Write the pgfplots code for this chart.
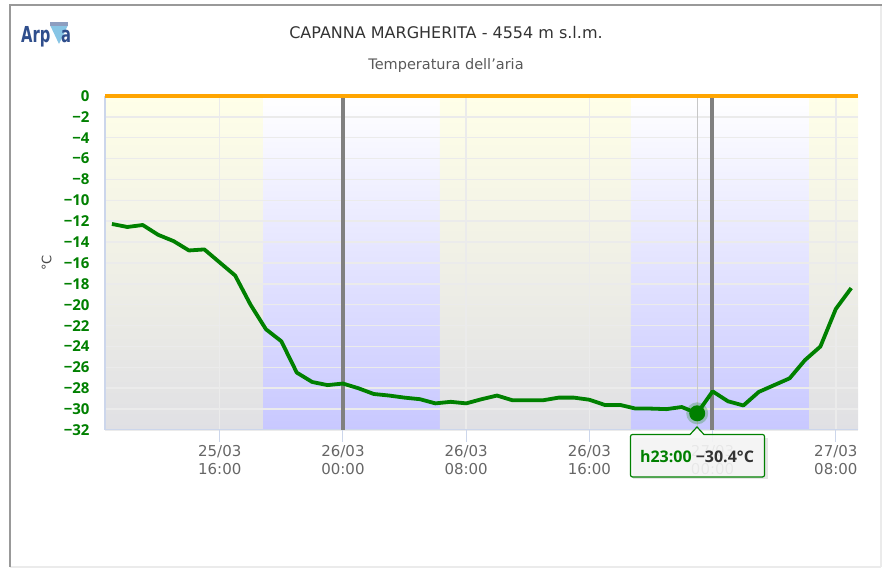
\documentclass[border=0pt]{standalone}
\usepackage{pgfplots}
\usepackage{fontspec}
\setmainfont{DejaVu Sans}
\newfontfamily\ofont{Open Sans}
\pgfplotsset{compat=1.18}
\definecolor{gr}{HTML}{008000}
\definecolor{axl}{HTML}{CCD6EB}
\definecolor{yt}{HTML}{FFFFE8}
\definecolor{yb}{HTML}{E0E0E4}
\definecolor{bt}{HTML}{FFFFFF}
\definecolor{bb}{HTML}{C8C8FF}
\definecolor{logo}{HTML}{2F4E8C}
\definecolor{org}{HTML}{FFA500}
\definecolor{lcy}{HTML}{87C5E5}
\begin{document}
\begin{tikzpicture}
\draw[line width=2pt,color=black!8] (881pt,3pt) -- (10pt,3pt);
\draw[line width=2pt,color=black!8] (881pt,565pt) -- (881pt,3pt);
\draw[line width=2pt,color=black!40] (10pt,3pt) -- (10pt,565pt) -- (882pt,565pt);
\begin{axis}[
  at={(105pt,140pt)},anchor=south west,scale only axis,width=753pt,height=334pt,
  set layers,
  xmin=-15.45,xmax=33.44,ymin=-32,ymax=0,
  clip=false,
  axis line style={draw=axl,line width=1pt},
  axis x line*=bottom,axis y line*=left,
  x axis line style={-},y axis line style={-,line width=2pt},
  xtick={-8,0,8,16,24,32},
  xticklabel style={align=center,text=black!60,font=\fontsize{15}{18}\selectfont,yshift=0pt},
  xticklabels={{25/03\\16:00},{26/03\\00:00},{26/03\\08:00},{26/03\\16:00},{27/03\\00:00},{27/03\\08:00}},
  ytick={0,-2,-4,-6,-8,-10,-12,-14,-16,-18,-20,-22,-24,-26,-28,-30,-32},
  yticklabels={0,−2,−4,−6,−8,−10,−12,−14,−16,−18,−20,−22,−24,−26,−28,−30,−32},
  yticklabel style={text=gr,font=\fontsize{15}{16}\ofont\bfseries\selectfont,xshift=0pt},
  tick align=outside,
  xtick style={draw=axl,line width=1pt},
  ytick style={draw=none},
  major tick length=12pt,
  ylabel={°C},
  ylabel style={font=\fontsize{13}{16}\selectfont,text=black!72,at={(axis description cs:0,0.5)},anchor=south,yshift=50pt},
  grid=major,
  grid style={color=black!8,line width=1.5pt},
]
\begin{pgfonlayer}{axis background}
\path[top color=yt,bottom color=yb] (axis cs:-15.45,0) rectangle (axis cs:-5.19,-32);
\path[top color=bt,bottom color=bb] (axis cs:-5.19,0) rectangle (axis cs:6.3,-32);
\path[top color=yt,bottom color=yb] (axis cs:6.3,0) rectangle (axis cs:18.7,-32);
\path[top color=bt,bottom color=bb] (axis cs:18.7,0) rectangle (axis cs:30.3,-32);
\path[top color=yt,bottom color=yb] (axis cs:30.3,0) rectangle (axis cs:33.44,-32);
\end{pgfonlayer}
\addplot[forget plot,color=black!50,line width=4pt] coordinates {(0,0)(0,-32)};
\addplot[forget plot,color=black!50,line width=4pt] coordinates {(23.97,0)(23.97,-32)};
\addplot[forget plot,color=black!22,line width=1pt] coordinates {(23,0)(23,-32)};
\addplot[forget plot,color=org,line width=4pt] coordinates {(-15.45,0)(33.44,0)};
\addplot[color=gr,line width=3.8pt,line join=round] coordinates {
(-15,-12.26)(-14,-12.55)(-13,-12.36)(-12,-13.3)(-11,-13.9)(-10,-14.8)(-9,-14.7)(-8,-15.95)
(-7,-17.2)(-6,-20.0)(-5,-22.35)(-4,-23.5)(-3,-26.5)(-2,-27.4)(-1,-27.7)(0,-27.55)
(1,-28)(2,-28.55)(3,-28.7)(4,-28.9)(5,-29.05)(6,-29.45)(7,-29.3)(8,-29.45)
(9,-29.05)(10,-28.7)(11,-29.15)(12,-29.15)(13,-29.15)(14,-28.9)(15,-28.9)(16,-29.1)
(17,-29.6)(18,-29.6)(19,-29.95)(20,-29.95)(21,-30.0)(22,-29.8)(23,-30.4)(24,-28.3)
(25,-29.25)(26,-29.65)(27,-28.35)(28,-27.7)(29,-27.05)(30,-25.3)(31,-24)(32,-20.4)(33,-18.4)};
\addplot[forget plot,only marks,mark=*,mark size=11pt,mark options={draw opacity=0,fill=gr,fill opacity=0.25,line width=0pt}] coordinates {(23,-30.4)};
\addplot[forget plot,only marks,mark=*,mark size=8pt,mark options={draw opacity=0,fill=gr,line width=0pt}] coordinates {(23,-30.4)};
\end{axis}
% titles
\node[font=\fontsize{16}{18}\selectfont,text=black!80] at (446pt,537pt) {CAPANNA MARGHERITA - 4554 m s.l.m.};
\node[font=\fontsize{14.5}{16}\selectfont,text=black!65] at (446pt,504pt) {Temperatura dell'aria};
% logo
\fill[lcy] (50pt,545pt) -- (68pt,545pt) -- (59pt,526pt) -- cycle;
\fill[logo!55] (50pt,544pt) rectangle (68pt,548pt);
\node[font=\fontsize{22}{24}\bfseries\selectfont,text=logo,anchor=base west,inner sep=0pt,xscale=.67] at (21pt,527pt) {Arp};
\node[font=\fontsize{22}{24}\bfseries\selectfont,text=logo,anchor=base west,inner sep=0pt,xscale=.67] at (61pt,527pt) {a};
% tooltip
\fill[black,opacity=0.10] (633pt,91pt) -- (633pt,132pt) -- (768pt,132pt) -- (768pt,91pt) -- cycle;
\draw[gr,line width=1.2pt,fill=black!3,fill opacity=0.9]
  (632.5pt,93pt) -- (762.5pt,93pt) arc (-90:0:2pt) -- (764.5pt,133.5pt) arc (0:90:2pt) -- (704pt,135.5pt) -- (697pt,143pt) -- (690pt,135.5pt) -- (632.5pt,135.5pt) arc (90:180:2pt) -- (630.5pt,95pt) arc (180:270:2pt) -- cycle;
\node[font=\fontsize{16}{18}\ofont\bfseries\selectfont,anchor=base,inner sep=0pt] at (697pt,107.5pt) {\textcolor{gr}{h23:00} \textcolor{black!80}{−30.4°C}};
\useasboundingbox (0pt,0pt) rectangle (892pt,570pt);
\end{tikzpicture}
\end{document}
